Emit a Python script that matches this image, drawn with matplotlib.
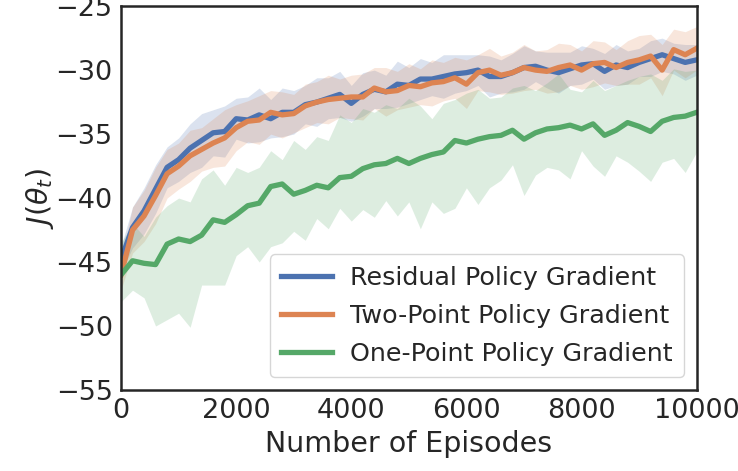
import numpy as np
import matplotlib
matplotlib.use("Agg")
import matplotlib.pyplot as plt

episodes = list(range(0, 10001, 200))

residual_mean = [-44.8, -42.3, -41.0, -39.3, -37.6, -37.0, -36.1, -35.5, -34.9, -34.8,
                 -33.8, -33.9, -33.5, -33.8, -33.3, -33.3, -32.7, -32.5, -32.2, -31.9,
                 -32.6, -31.9, -31.5, -31.7, -31.1, -31.2, -30.7, -30.7, -30.5, -30.3,
                 -30.2, -30.0, -30.5, -30.5, -30.2, -29.8, -29.7, -30.0, -30.2, -29.9,
                 -29.6, -29.5, -30.1, -29.6, -29.8, -29.4, -29.1, -28.8, -29.1, -29.4,
                 -29.2]
residual_std = [1.0, 1.6, 1.8, 1.9, 1.6, 1.7, 1.9, 2.1, 1.8, 2.0, 1.6, 1.8, 2.1, 1.5, 1.9,
                1.7, 1.5, 1.9, 1.6, 1.8, 1.4, 1.7, 1.5, 1.3, 1.8, 1.4, 1.6, 1.3, 1.7, 1.5,
                1.4, 1.2, 1.6, 1.3, 1.5, 1.7, 1.2, 1.4, 1.6, 1.3, 1.5, 1.2, 1.4, 1.6, 1.3,
                1.1, 1.4, 1.3, 1.2, 1.4, 1.2]

twopoint_mean = [-46.0, -42.5, -41.4, -39.8, -38.1, -37.5, -36.7, -36.2, -35.7, -35.3,
                 -34.5, -34.0, -33.9, -33.3, -33.5, -33.4, -32.8, -32.5, -32.3, -32.2,
                 -32.1, -32.1, -31.4, -31.7, -31.6, -31.2, -31.3, -31.0, -30.9, -30.6,
                 -31.1, -30.2, -30.0, -30.4, -30.2, -29.8, -30.0, -30.1, -29.8, -29.6,
                 -30.0, -29.5, -29.4, -29.8, -29.4, -29.2, -28.9, -30.0, -28.4, -28.8,
                 -28.3]
twopoint_std = [1.2, 1.8, 2.0, 2.2, 1.9, 1.8, 2.0, 1.7, 1.9, 2.2, 1.8, 1.6, 1.9, 1.7, 1.8,
                1.5, 1.7, 1.6, 1.9, 1.5, 1.7, 1.8, 1.6, 1.9, 1.5, 1.7, 1.4, 1.8, 1.5, 1.6,
                1.9, 1.4, 1.7, 1.5, 1.6, 1.8, 1.5, 1.7, 1.9, 1.6, 1.5, 1.8, 1.6, 1.4, 1.7,
                1.9, 1.7, 2.0, 1.6, 1.8, 1.7]

onepoint_mean = [-46.0, -44.9, -45.1, -45.2, -43.6, -43.2, -43.4, -42.9, -41.7, -41.9,
                 -41.3, -40.6, -40.4, -39.1, -38.9, -39.7, -39.4, -39.0, -39.2, -38.4,
                 -38.3, -37.7, -37.4, -37.3, -36.9, -37.3, -36.9, -36.6, -36.4, -35.5,
                 -35.7, -35.4, -35.2, -35.1, -34.7, -35.4, -34.9, -34.6, -34.5, -34.3,
                 -34.6, -34.2, -35.1, -34.7, -34.1, -34.4, -34.8, -34.0, -33.7, -33.6,
                 -33.3]
onepoint_low = [-48.1, -47.2, -47.8, -50.0, -49.5, -49.0, -50.1, -46.8, -46.8, -46.8,
                -44.5, -43.8, -45.0, -43.8, -43.5, -42.6, -43.3, -41.6, -42.4, -40.8,
                -41.8, -40.9, -41.5, -40.2, -41.4, -40.3, -42.4, -40.3, -41.2, -40.8,
                -39.2, -40.5, -39.2, -38.6, -37.4, -39.8, -38.2, -37.6, -37.8, -38.5,
                -36.3, -37.5, -38.3, -36.7, -37.2, -37.9, -38.7, -37.2, -36.9, -38.0,
                -36.4]
onepoint_high = [-43.5, -42.0, -43.0, -41.5, -40.6, -40.0, -40.3, -38.5, -37.8, -39.0,
                 -37.6, -38.0, -37.6, -36.3, -37.0, -35.5, -36.2, -35.2, -35.5, -33.5,
                 -34.1, -33.0, -33.3, -32.7, -33.0, -32.2, -32.8, -33.8, -32.6, -32.3,
                 -31.8, -31.5, -32.2, -32.1, -31.4, -31.2, -31.6, -31.0, -30.3, -31.5,
                 -31.7, -30.8, -31.6, -31.2, -30.8, -30.5, -30.3, -30.8, -29.9, -30.1,
                 -30.0]

labels = ["Residual Policy Gradient", "Two-Point Policy Gradient", "One-Point Policy Gradient"]
colors = ["#4C72B0", "#DD8452", "#55A868"]
xticks = [0, 2000, 4000, 6000, 8000, 10000]
yticks = [-55, -50, -45, -40, -35, -30, -25]

textc = "#262626"
plt.rcParams["font.family"] = ["DejaVu Sans"]

fig = plt.figure(figsize=(7.38, 4.71), dpi=100)
ax = fig.add_axes([0.164, 0.172, 0.780, 0.815])

x = np.array(episodes)
rm, rs = np.array(residual_mean), np.array(residual_std)
tm, ts = np.array(twopoint_mean), np.array(twopoint_std)
om = np.array(onepoint_mean)

ax.fill_between(x, rm - rs, rm + rs, color=colors[0], alpha=0.2, linewidth=0)
ax.fill_between(x, tm - ts, tm + ts, color=colors[1], alpha=0.2, linewidth=0)
ax.fill_between(x, onepoint_low, onepoint_high, color=colors[2], alpha=0.2, linewidth=0)

ax.plot(x, rm, color=colors[0], lw=3.8, label=labels[0])
ax.plot(x, tm, color=colors[1], lw=3.8, label=labels[1])
ax.plot(x, om, color=colors[2], lw=3.8, label=labels[2])

ax.set_xlim(0, 10000)
ax.set_ylim(-55, -25)
ax.set_xticks(xticks)
ax.set_yticks(yticks)
ax.tick_params(axis="both", length=0, labelsize=19.5, colors=textc, pad=6)
ax.set_xlabel("Number of Episodes", fontsize=20.5, color=textc, labelpad=4)
ax.set_ylabel(r"$J(\theta_t)$", fontsize=20.5, color=textc, labelpad=0)
for s in ax.spines.values():
    s.set_color(textc)
    s.set_linewidth(1.8)

leg = ax.legend(loc="lower right", fontsize=18.3, frameon=True, fancybox=True,
                handlelength=2.0, borderpad=0.45, labelspacing=0.55, handletextpad=0.7,
                borderaxespad=0.5)
leg.get_frame().set_edgecolor("#cccccc")
leg.get_frame().set_linewidth(1.0)
for t in leg.get_texts():
    t.set_color(textc)

fig.savefig("out.png", dpi=100)
